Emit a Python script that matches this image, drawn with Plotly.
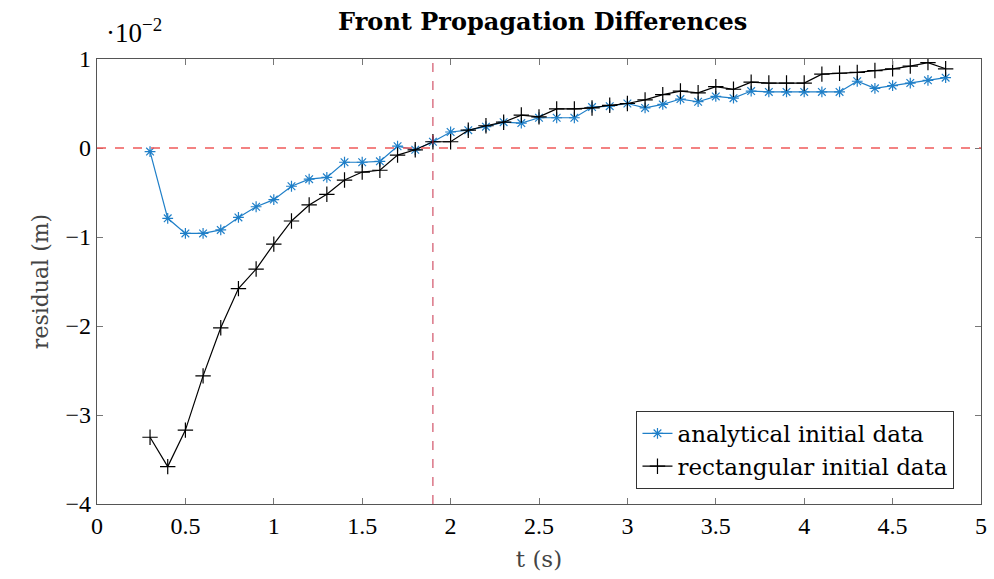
import plotly.graph_objects as go

# time samples (s)
t = [round(0.3 + 0.1 * i, 1) for i in range(46)]

# residuals in units of 1e-2 m
analytical = [-0.04, -0.79, -0.96, -0.96, -0.92, -0.78, -0.66, -0.58, -0.43, -0.35,
              -0.33, -0.16, -0.16, -0.15, 0.02, -0.02, 0.07, 0.18, 0.20, 0.24,
              0.29, 0.28, 0.34, 0.34, 0.34, 0.46, 0.47, 0.50, 0.45, 0.49,
              0.55, 0.52, 0.58, 0.56, 0.64, 0.63, 0.63, 0.63, 0.63, 0.63,
              0.75, 0.67, 0.70, 0.73, 0.76, 0.79]
rectangular = [-3.25, -3.58, -3.17, -2.56, -2.02, -1.58, -1.36, -1.08, -0.82, -0.64,
               -0.52, -0.36, -0.27, -0.25, -0.08, -0.02, 0.07, 0.07, 0.20, 0.25,
               0.29, 0.37, 0.35, 0.44, 0.44, 0.45, 0.48, 0.50, 0.54, 0.60,
               0.64, 0.62, 0.69, 0.66, 0.74, 0.73, 0.73, 0.73, 0.83, 0.84,
               0.85, 0.87, 0.89, 0.92, 0.96, 0.89]

x_ticks = [0, 0.5, 1, 1.5, 2, 2.5, 3, 3.5, 4, 4.5, 5]
y_ticks = [-4, -3, -2, -1, 0, 1]
front_time = 1.9

TEXT_FONT = "DejaVu Serif"
NUM_FONT = "Liberation Serif"
BLUE = "#1f7fc8"

fig = go.Figure()
fig.add_trace(go.Scatter(
    x=t, y=analytical, mode="lines+markers", name="analytical initial data",
    line=dict(color=BLUE, width=1.2),
    marker=dict(symbol="asterisk-open", size=9, color=BLUE, line=dict(color=BLUE, width=1.2)),
))
fig.add_trace(go.Scatter(
    x=t, y=rectangular, mode="lines+markers", name="rectangular initial data",
    line=dict(color="black", width=1.2),
    marker=dict(symbol="cross-thin-open", size=11, color="black", line=dict(color="black", width=1.2)),
))

fig.add_hline(y=0, line=dict(color="#f05a5a", width=1.3, dash="dash"))
fig.add_vline(x=front_time, line=dict(color="#c8304a", width=1.0, dash="dash"))

axis_common = dict(
    showgrid=False, zeroline=False, showline=True, mirror="allticks",
    linecolor="#555555", linewidth=1.2, ticks="inside", ticklen=6,
    tickcolor="#777777", tickfont=dict(family=NUM_FONT, size=24, color="black"),
)
fig.update_xaxes(range=[0, 5], tickvals=x_ticks, ticktext=[f"{v:g}" for v in x_ticks],
                 title=dict(text="t (s)", font=dict(family=TEXT_FONT, size=23, color="#444"), standoff=12),
                 **axis_common)
fig.update_yaxes(range=[-4, 1], tickvals=y_ticks,
                 ticktext=[("−" + str(abs(v))) if v < 0 else str(v) for v in y_ticks],
                 title=dict(text="residual (m)", font=dict(family=TEXT_FONT, size=22, color="#444"), standoff=10),
                 **axis_common)

fig.add_annotation(x=0, y=1, xref="x", yref="y", xanchor="left", yanchor="bottom",
                   xshift=7, yshift=9, showarrow=False,
                   text="·10<sup>−2</sup>", font=dict(family=NUM_FONT, size=27, color="black"))

fig.update_layout(
    width=994, height=579,
    margin=dict(l=97, r=7, t=59, b=75),
    plot_bgcolor="white", paper_bgcolor="white",
    title=dict(text="<b>Front Propagation Differences</b>", x=0.546, xanchor="center",
               y=0.963, yanchor="middle", font=dict(family=TEXT_FONT, size=24, color="black")),
    legend=dict(x=0.970, y=0.034, xanchor="right", yanchor="bottom",
                bordercolor="#333333", borderwidth=1, bgcolor="white",
                font=dict(family=TEXT_FONT, size=23, color="black"), tracegroupgap=0),
    showlegend=True,
)

fig.write_html("out.html")
